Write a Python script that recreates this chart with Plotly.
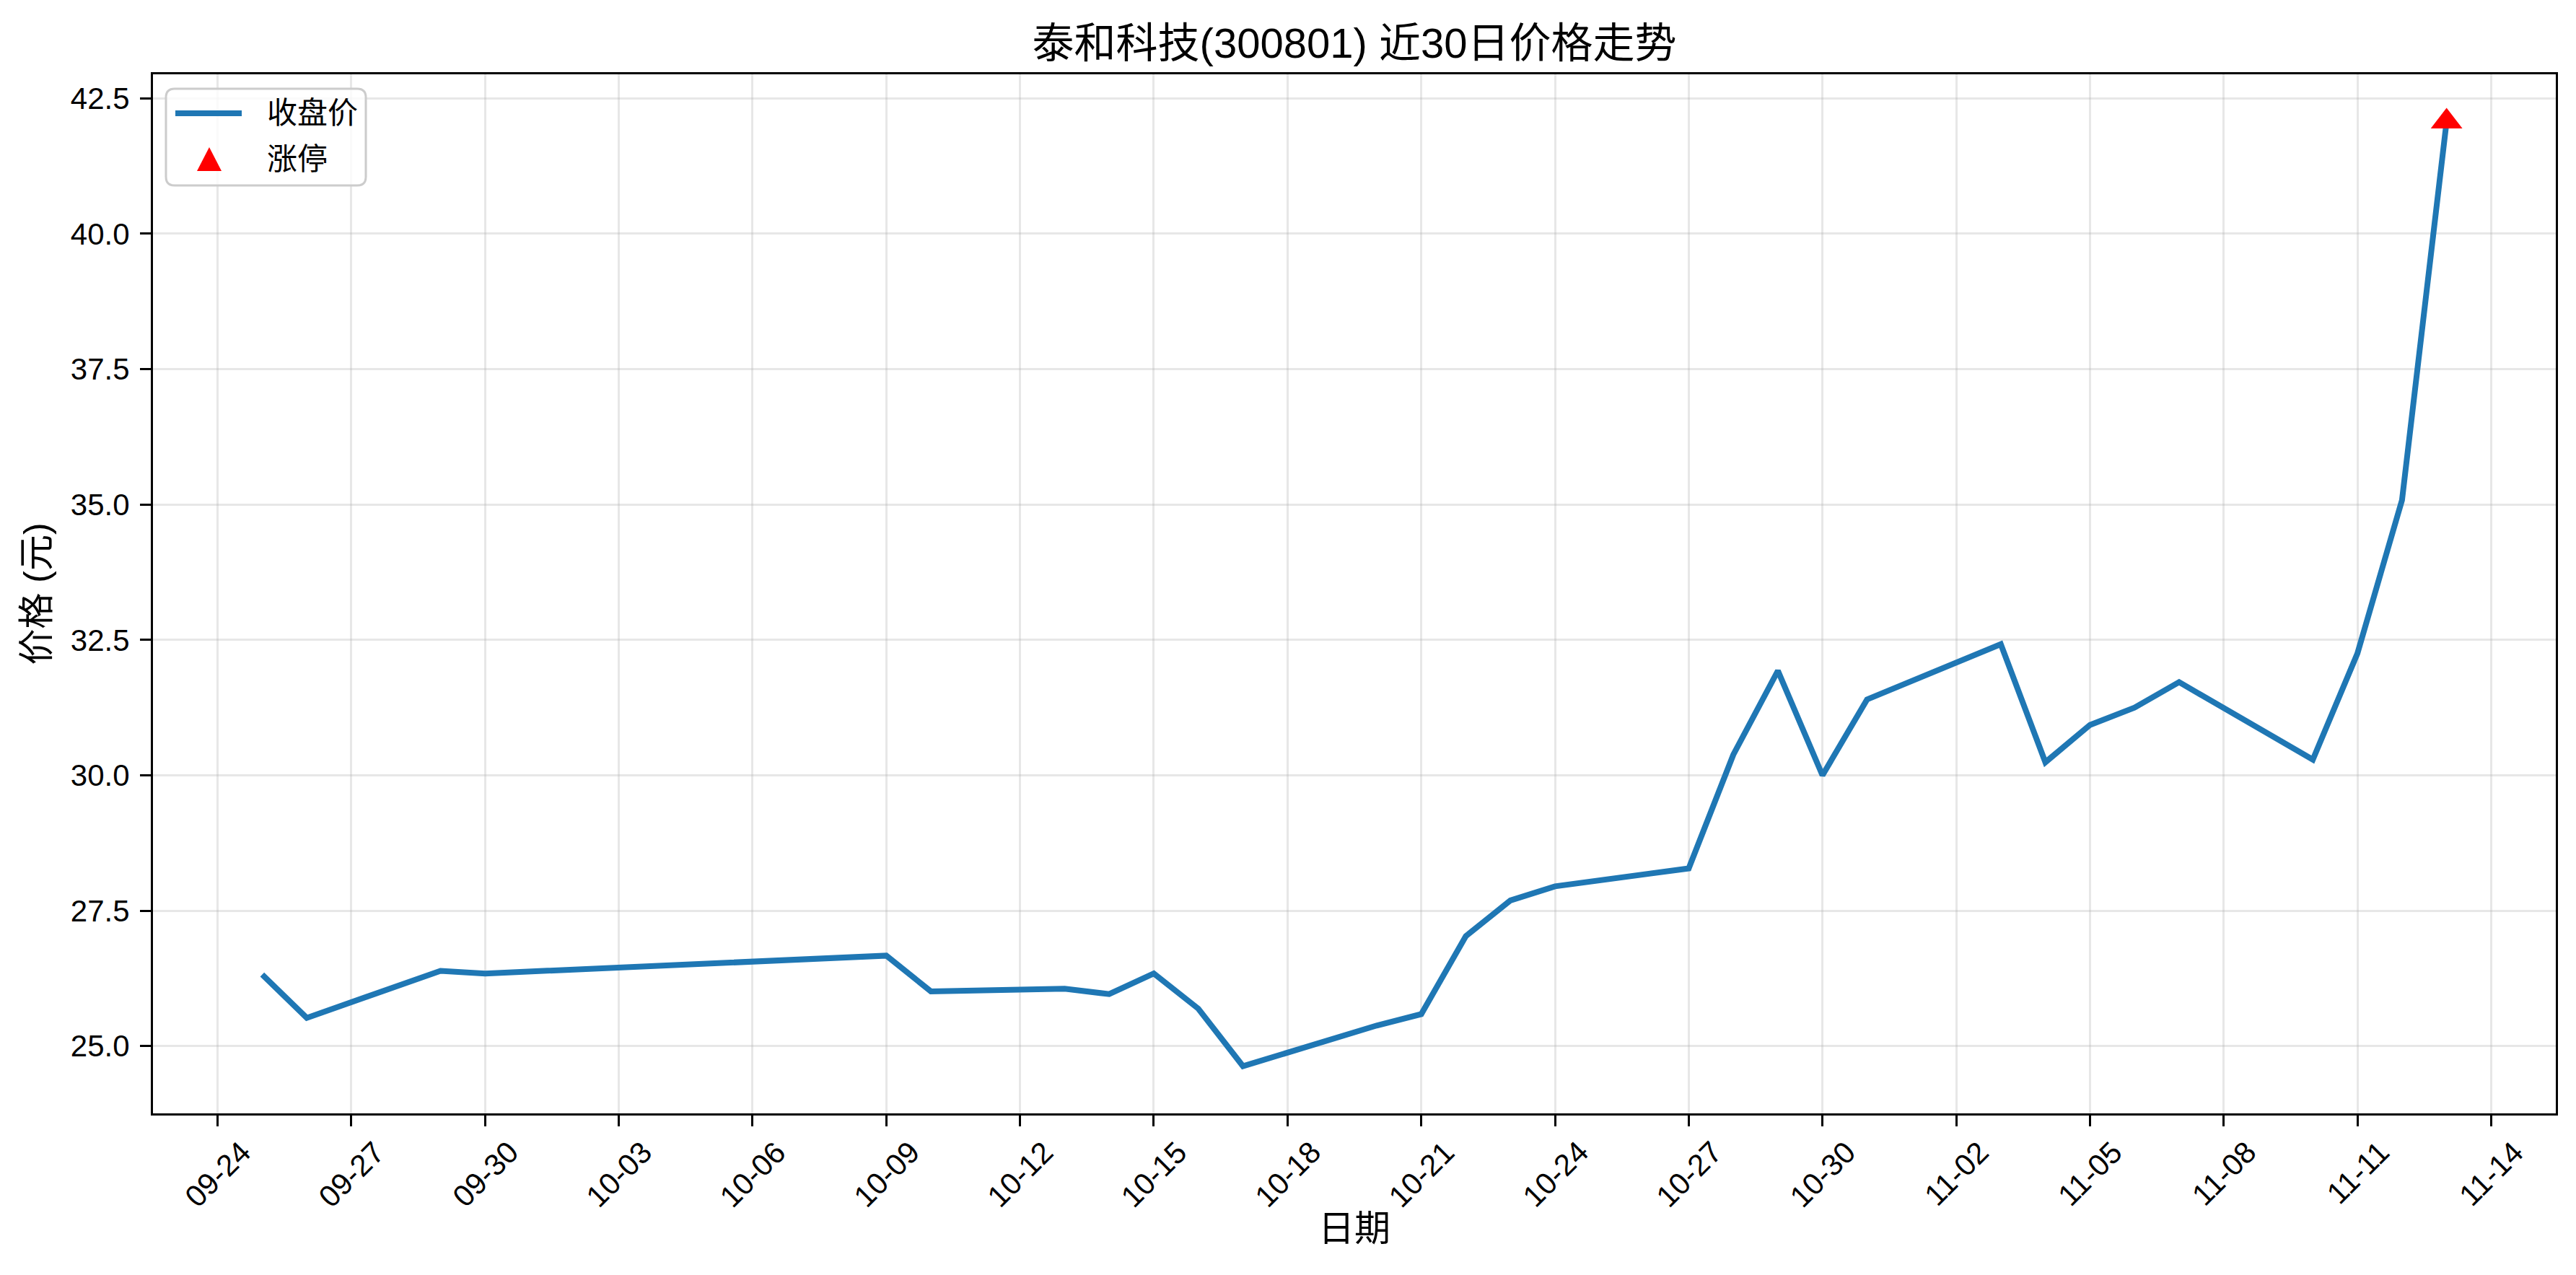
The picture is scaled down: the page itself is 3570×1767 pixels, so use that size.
import plotly.graph_objects as go

# ---- data ----
dates = ["2025-09-25", "2025-09-26", "2025-09-29", "2025-09-30", "2025-10-09",
         "2025-10-10", "2025-10-13", "2025-10-14", "2025-10-15", "2025-10-16",
         "2025-10-17", "2025-10-20", "2025-10-21", "2025-10-22", "2025-10-23",
         "2025-10-24", "2025-10-27", "2025-10-28", "2025-10-29", "2025-10-30",
         "2025-10-31", "2025-11-03", "2025-11-04", "2025-11-05", "2025-11-06",
         "2025-11-07", "2025-11-10", "2025-11-11", "2025-11-12", "2025-11-13"]
close = [26.32, 25.52, 26.39, 26.34, 26.67,
         26.01, 26.06, 25.96, 26.34, 25.69,
         24.63, 25.38, 25.59, 27.03, 27.69,
         27.95, 28.28, 30.38, 31.93, 30.00,
         31.40, 32.42, 30.24, 30.93, 31.25,
         31.72, 30.29, 32.25, 35.08, 42.07]
limit_up_dates = ["2025-11-13"]
limit_up_prices = [42.07]

x_tick_dates = ["2025-09-24", "2025-09-27", "2025-09-30", "2025-10-03", "2025-10-06",
                "2025-10-09", "2025-10-12", "2025-10-15", "2025-10-18", "2025-10-21",
                "2025-10-24", "2025-10-27", "2025-10-30", "2025-11-02", "2025-11-05",
                "2025-11-08", "2025-11-11", "2025-11-14"]
x_tick_labels = ["09-24", "09-27", "09-30", "10-03", "10-06", "10-09", "10-12", "10-15",
                 "10-18", "10-21", "10-24", "10-27", "10-30", "11-02", "11-05", "11-08",
                 "11-11", "11-14"]
y_tick_vals = [25.0, 27.5, 30.0, 32.5, 35.0, 37.5, 40.0, 42.5]

title_text = "泰和科技(300801) 近30日价格走势"
x_title = "日期"
y_title = "价格 (元)"
line_name = "收盘价"
marker_name = "涨停"

FONT = "Liberation Sans, Arial, Noto Sans CJK SC, sans-serif"
W, H = 3570, 1767
L, R, T, B = 212, 28, 103, 224
plot_w = W - L - R
plot_h = H - T - B
LINE_COLOR = "#1f77b4"


def px(xp):
    return (xp - L) / plot_w


def py(yp):
    return 1 - (yp - T) / plot_h


fig = go.Figure()
fig.add_trace(go.Scatter(
    x=dates, y=close, mode="lines", name=line_name,
    line=dict(color=LINE_COLOR, width=8),
))
fig.add_trace(go.Scatter(
    x=limit_up_dates, y=limit_up_prices, mode="markers", name=marker_name,
    marker=dict(symbol="triangle-up", color="red", size=38, line=dict(width=0)),
))

grid = "rgba(176,176,176,0.3)"
fig.update_layout(
    width=W, height=H,
    margin=dict(l=L, r=R, t=T, b=B, autoexpand=False),
    paper_bgcolor="white", plot_bgcolor="white",
    font=dict(family=FONT, size=42, color="black"),
    title=dict(text=title_text, x=(L + plot_w / 2) / W, xanchor="center",
               y=1 - 60 / H, yanchor="middle", yref="container",
               font=dict(size=58, color="black", family=FONT)),
    showlegend=False,
    xaxis=dict(
        type="date",
        range=["2025-09-22 13:12", "2025-11-15 10:48"],
        tickvals=x_tick_dates, showticklabels=False,
        ticks="outside", ticklen=15, tickwidth=3, tickcolor="black",
        showline=True, linewidth=3, linecolor="black", mirror=True,
        showgrid=True, gridcolor=grid, gridwidth=3, zeroline=False,
        title=dict(text=x_title, standoff=125, font=dict(size=50, family=FONT, color="black")),
    ),
    yaxis=dict(
        range=[23.758, 42.942],
        tickvals=y_tick_vals, tickformat=".1f",
        ticks="outside", ticklen=15, tickwidth=3, tickcolor="black",
        ticklabelstandoff=6,
        showline=True, linewidth=3, linecolor="black", mirror=True,
        showgrid=True, gridcolor=grid, gridwidth=3, zeroline=False,
        tickfont=dict(size=42, family=FONT, color="black"),
        title=dict(text=y_title, standoff=14, font=dict(size=50, family=FONT, color="black")),
    ),
)

# rotated x tick labels, centred under each tick (matplotlib style)
for d, lab in zip(x_tick_dates, x_tick_labels):
    fig.add_annotation(x=d, xref="x", y=-(1570 - (H - B)) / plot_h, yref="paper",
                       text=lab, showarrow=False, textangle=-45,
                       xanchor="center", yanchor="top",
                       font=dict(size=42, family=FONT, color="black"))

# ---- legend drawn matplotlib-style (rounded frame, long line handle) ----
bx0, bx1, by0, by1, rad = 230, 507, 123, 257, 12
rx, ry = rad / plot_w, rad / plot_h
X0, X1, Y0, Y1 = px(bx0), px(bx1), py(by1), py(by0)
frame = (f"M {X0 + rx},{Y1} L {X1 - rx},{Y1} Q {X1},{Y1} {X1},{Y1 - ry} "
         f"L {X1},{Y0 + ry} Q {X1},{Y0} {X1 - rx},{Y0} "
         f"L {X0 + rx},{Y0} Q {X0},{Y0} {X0},{Y0 + ry} "
         f"L {X0},{Y1 - ry} Q {X0},{Y1} {X0 + rx},{Y1} Z")
fig.add_shape(type="path", path=frame, xref="paper", yref="paper",
              fillcolor="rgba(255,255,255,0.8)", line=dict(color="#cccccc", width=3),
              layer="above")
fig.add_shape(type="line", xref="paper", yref="paper",
              x0=px(243), x1=px(335), y0=py(157), y1=py(157),
              line=dict(color=LINE_COLOR, width=8), layer="above")
tri = (f"M {px(290)},{py(204)} L {px(307)},{py(237)} L {px(273)},{py(237)} Z")
fig.add_shape(type="path", path=tri, xref="paper", yref="paper",
              fillcolor="red", line=dict(width=0), layer="above")
for name, yc in [(line_name, 157), (marker_name, 220)]:
    fig.add_annotation(x=px(368), y=py(yc), xref="paper", yref="paper",
                       text=name, showarrow=False, xanchor="left", yanchor="middle",
                       font=dict(size=42, family=FONT, color="black"))

fig.write_html("out.html", config={"displayModeBar": False},
               post_script="document.body.style.margin='0';document.body.style.overflow='hidden';")
